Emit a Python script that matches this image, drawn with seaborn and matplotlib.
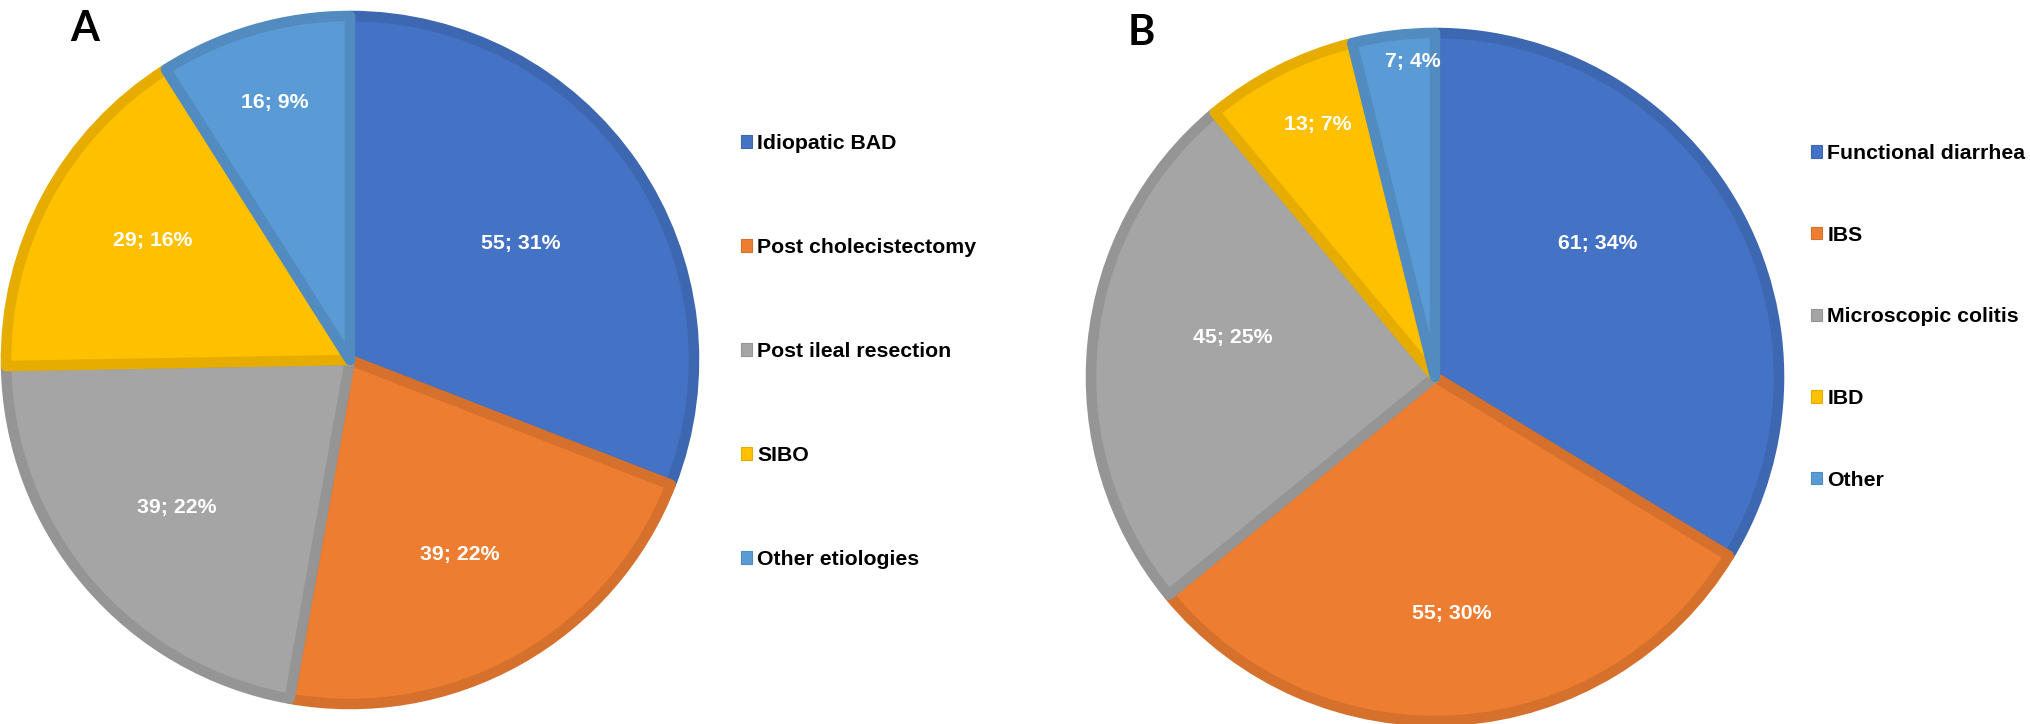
import matplotlib
matplotlib.use("Agg")
import matplotlib.pyplot as plt
import seaborn as sns
import numpy as np
from matplotlib.patches import Patch
from matplotlib.colors import to_rgb

# ---- data ----
categories_a = ["Idiopatic BAD", "Post cholecistectomy", "Post ileal resection", "SIBO", "Other etiologies"]
values_a = [55, 39, 39, 29, 16]
percents_a = [31, 22, 22, 16, 9]

categories_b = ["Functional diarrhea", "IBS", "Microscopic colitis", "IBD", "Other"]
values_b = [61, 55, 45, 13, 7]
percents_b = [34, 30, 25, 7, 4]

panel_titles = ["A", "B"]

# ---- style ----
colors = ["#4472C4", "#ED7D31", "#A5A5A5", "#FFC000", "#5B9BD5"]
sns.set_theme(style="white")
plt.rcParams['font.family'] = ['Liberation Sans', 'DejaVu Sans']
plt.rcParams['text.color'] = 'black'
FS = 15.3

W, H, DPI = 2031, 724, 100
fig = plt.figure(figsize=(W / DPI, H / DPI), dpi=DPI)


def px_axes(cx, cy, r):
    return fig.add_axes([(cx - r) / W, (H - cy - r) / H, 2 * r / W, 2 * r / H])


def darker(c, f=0.9):
    r, g, b = to_rgb(c)
    return (r * f, g * f, b * f)


def draw_pie(ax, values, percents, dists, nudges):
    wedges, _ = ax.pie(values, colors=colors, startangle=90, counterclock=False,
                       wedgeprops=dict(linewidth=7.6))
    for w, c in zip(wedges, colors):
        w.set_edgecolor(darker(c))
        w.set_joinstyle('round')
        w.set_clip_path(w)
    for w, v, p, d, n in zip(wedges, values, percents, dists, nudges):
        ang = np.deg2rad((w.theta1 + w.theta2) / 2 + n)
        ax.text(d * np.cos(ang), d * np.sin(ang), f"{v}; {p}%", ha='center', va='center',
                color='white', fontsize=FS, fontweight='bold')
    ax.set_xlim(-1, 1)
    ax.set_ylim(-1, 1)
    ax.set_aspect('equal')
    ax.axis('off')


ax_a = px_axes(350, 360, 344)
draw_pie(ax_a, values_a, percents_a, [0.6, 0.65, 0.66, 0.67, 0.78], [0, 0, 0, -3, 0])

ax_b = px_axes(1435, 377, 344)
draw_pie(ax_b, values_b, percents_b, [0.61, 0.69, 0.6, 0.81, 0.92], [10, 0, -5.6, -2, -3])


def legend(labels, x, y, spacing):
    handles = [Patch(facecolor=c, edgecolor=darker(c), linewidth=0.8) for c in colors]
    fig.legend(handles, labels, loc='upper left', bbox_to_anchor=(x / W, 1 - y / H),
               frameon=False, prop={'weight': 'bold', 'size': FS}, labelcolor='black',
               handlelength=0.52, handleheight=0.52, handletextpad=0.25,
               labelspacing=spacing, borderpad=0, borderaxespad=0)


legend(categories_a, 741, 134, 4.0)
legend(categories_b, 1811, 144, 2.95)

fig.text(85 / W, 1 - 29 / H, panel_titles[0], ha='center', va='center', fontsize=30,
         fontweight='bold', color='black', family=['Lato', 'DejaVu Sans'])
fig.text(1141 / W, 1 - 33 / H, panel_titles[1], ha='center', va='center', fontsize=30,
         fontweight='bold', color='black', family=['Lato', 'DejaVu Sans'])

fig.savefig("out.png", dpi=DPI, facecolor='white')
